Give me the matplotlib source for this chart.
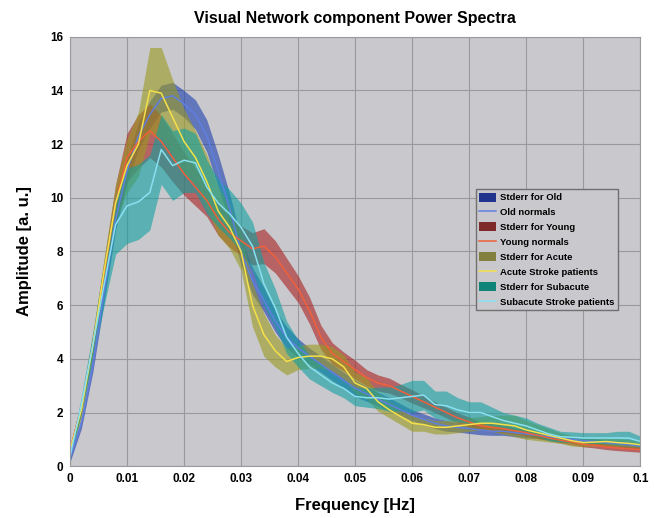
import matplotlib
matplotlib.use("Agg")
import matplotlib.pyplot as plt
import numpy as np

plt.rcParams["font.family"] = ["Liberation Sans", "DejaVu Sans"]

freq = [0.000, 0.002, 0.004, 0.006, 0.008, 0.010, 0.012, 0.014, 0.016, 0.018,
        0.020, 0.022, 0.024, 0.026, 0.028, 0.030, 0.032, 0.034, 0.036, 0.038,
        0.040, 0.042, 0.044, 0.046, 0.048, 0.050, 0.052, 0.054, 0.056, 0.058,
        0.060, 0.062, 0.064, 0.066, 0.068, 0.070, 0.072, 0.074, 0.076, 0.078,
        0.080, 0.082, 0.084, 0.086, 0.088, 0.090, 0.092, 0.094, 0.096, 0.098,
        0.100]

old_mean = [0.3, 1.6, 3.8, 6.5, 9.2, 11.0, 12.3, 13.1, 13.7, 13.8,
            13.5, 13.1, 12.3, 11.0, 9.6, 8.0, 6.9, 6.2, 5.4, 4.8,
            4.4, 4.1, 3.8, 3.5, 3.2, 2.9, 2.7, 2.5, 2.3, 2.1,
            1.9, 1.75, 1.6, 1.5, 1.45, 1.4, 1.35, 1.3, 1.3, 1.25,
            1.2, 1.15, 1.1, 1.05, 1.0, 0.95, 0.92, 0.88, 0.85, 0.8,
            0.75]
old_err = [0.15, 0.2, 0.3, 0.35, 0.4, 0.45, 0.5, 0.5, 0.5, 0.5,
           0.5, 0.55, 0.6, 0.6, 0.55, 0.5, 0.5, 0.45, 0.4, 0.4,
           0.35, 0.3, 0.3, 0.3, 0.3, 0.3, 0.28, 0.25, 0.25, 0.22,
           0.2, 0.2, 0.2, 0.2, 0.18, 0.18, 0.18, 0.15, 0.15, 0.15,
           0.15, 0.12, 0.12, 0.12, 0.1, 0.1, 0.1, 0.1, 0.1, 0.1,
           0.1]

young_mean = [0.6, 2.2, 4.5, 7.2, 9.8, 11.5, 12.1, 12.5, 12.1, 11.5,
              10.9, 10.4, 9.9, 9.2, 8.7, 8.4, 8.1, 8.2, 7.8, 7.2,
              6.6, 5.8, 4.8, 4.2, 3.9, 3.6, 3.3, 3.1, 3.0, 2.8,
              2.6, 2.4, 2.2, 2.0, 1.8, 1.65, 1.5, 1.45, 1.4, 1.32,
              1.25, 1.15, 1.05, 0.97, 0.9, 0.82, 0.78, 0.72, 0.68, 0.65,
              0.62]
young_err = [0.15, 0.25, 0.35, 0.5, 0.7, 0.9, 1.0, 1.0, 0.95, 0.9,
             0.8, 0.7, 0.6, 0.6, 0.55, 0.55, 0.6, 0.65, 0.6, 0.55,
             0.5, 0.5, 0.45, 0.4, 0.35, 0.35, 0.3, 0.3, 0.28, 0.25,
             0.25, 0.22, 0.2, 0.2, 0.18, 0.18, 0.15, 0.15, 0.15, 0.12,
             0.12, 0.12, 0.1, 0.1, 0.1, 0.1, 0.1, 0.1, 0.1, 0.1,
             0.1]

acute_mean = [0.6, 2.1, 4.5, 7.3, 9.8, 11.2, 12.0, 14.0, 13.9, 13.0,
              12.1, 11.5, 10.6, 9.5, 8.9, 8.0, 6.0, 4.9, 4.3, 3.9,
              4.05, 4.1, 4.1, 4.0, 3.7, 3.1, 2.9, 2.4, 2.1, 1.85,
              1.6, 1.55, 1.45, 1.45, 1.5, 1.55, 1.6, 1.6, 1.55, 1.5,
              1.35, 1.25, 1.15, 1.05, 0.95, 0.88, 0.9, 0.92, 0.88, 0.85,
              0.8]
acute_err = [0.15, 0.3, 0.4, 0.5, 0.7, 1.0, 1.2, 1.6, 1.7, 1.4,
             1.2, 1.0, 1.0, 0.9, 0.8, 0.7, 0.8, 0.8, 0.6, 0.5,
             0.45, 0.45, 0.45, 0.45, 0.45, 0.4, 0.4, 0.35, 0.3, 0.3,
             0.3, 0.25, 0.25, 0.25, 0.25, 0.25, 0.25, 0.3, 0.35, 0.4,
             0.35, 0.3, 0.25, 0.2, 0.2, 0.15, 0.15, 0.15, 0.15, 0.15,
             0.15]

subacute_mean = [0.35, 2.3, 4.5, 6.8, 9.0, 9.7, 9.85, 10.2, 11.8, 11.2,
                 11.4, 11.3, 10.4, 9.8, 9.4, 8.9, 8.2, 6.8, 5.9, 4.8,
                 4.2, 3.7, 3.4, 3.1, 2.9, 2.6, 2.55, 2.55, 2.5, 2.55,
                 2.6, 2.65, 2.3, 2.25, 2.1, 2.0, 2.0, 1.85, 1.7, 1.6,
                 1.5, 1.35, 1.2, 1.1, 1.08, 1.05, 1.05, 1.05, 1.05, 1.05,
                 0.92]
subacute_err = [0.15, 0.3, 0.5, 0.8, 1.1, 1.4, 1.4, 1.4, 1.3, 1.3,
                1.2, 1.1, 1.0, 0.9, 0.9, 0.9, 0.9, 0.8, 0.7, 0.6,
                0.5, 0.45, 0.4, 0.35, 0.35, 0.35, 0.35, 0.4, 0.45, 0.5,
                0.6, 0.55, 0.5, 0.55, 0.45, 0.4, 0.4, 0.35, 0.3, 0.3,
                0.3, 0.25, 0.25, 0.2, 0.2, 0.2, 0.2, 0.2, 0.25, 0.25,
                0.2]

# name, line label, mean, stderr, band colour, line colour, legend swatch colour
groups = [
    ("Old", "Old normals", old_mean, old_err, "#1c3fb0", "#5f7fe0", "#22358e"),
    ("Young", "Young normals", young_mean, young_err, "#a82020", "#f0603a", "#7e2a2a"),
    ("Acute", "Acute Stroke patients", acute_mean, acute_err, "#9a9a20", "#f5e04a", "#82803c"),
    ("Subacute", "Subacute Stroke patients", subacute_mean, subacute_err, "#10a0a0", "#8ae0f0", "#118478"),
]

fig = plt.figure(figsize=(6.54, 5.18), dpi=100)
ax = fig.add_axes([0.107, 0.100, 0.872, 0.829])
ax.set_facecolor("#c9c9cd")

x = np.array(freq)
for name, label, mean, err, band_col, line_col, _ in groups:
    m = np.array(mean)
    e = np.array(err)
    ax.fill_between(x, m - e, m + e, color=band_col, alpha=0.6, linewidth=0,
                    label=f"Stderr for {name}")
    ax.plot(x, m, color=line_col, linewidth=1.1, label=label)

ax.set_xlim(0, 0.1)
ax.set_ylim(0, 16)
ax.set_xticks([0, 0.01, 0.02, 0.03, 0.04, 0.05, 0.06, 0.07, 0.08, 0.09, 0.1])
ax.set_xticklabels(["0", "0.01", "0.02", "0.03", "0.04", "0.05", "0.06",
                    "0.07", "0.08", "0.09", "0.1"])
ax.set_yticks([0, 2, 4, 6, 8, 10, 12, 14, 16])
ax.grid(True, color="#9a9a9e", linewidth=0.8)
ax.set_axisbelow(True)
ax.tick_params(labelsize=8.5, length=0, pad=5)
for lbl in ax.get_xticklabels() + ax.get_yticklabels():
    lbl.set_fontweight("bold")
for s in ax.spines.values():
    s.set_color("#9a9a9e")

ax.set_xlabel("Frequency [Hz]", fontsize=12, fontweight="bold", labelpad=9)
ax.set_ylabel("Amplitude [a. u.]", fontsize=12, fontweight="bold", labelpad=13)
ax.set_title("Visual Network component Power Spectra", fontsize=11.5,
             fontweight="bold", pad=10)

leg = ax.legend(loc="upper left", bbox_to_anchor=(0.712, 0.645),
                prop={"size": 6.8, "weight": "bold"}, frameon=True,
                fancybox=False, handlelength=1.8, handleheight=1.1,
                labelspacing=0.55, borderpad=0.35, handletextpad=0.4,
                borderaxespad=0)
leg.get_frame().set_facecolor("#c9c9cd")
leg.get_frame().set_edgecolor("#707070")
leg.get_frame().set_alpha(1)
# legend swatches look darker than the bands in the plot
for h, g in zip(leg.legend_handles[0::2], groups):
    h.set_facecolor(g[6])
    h.set_alpha(1)

fig.savefig("out.png", dpi=100)
